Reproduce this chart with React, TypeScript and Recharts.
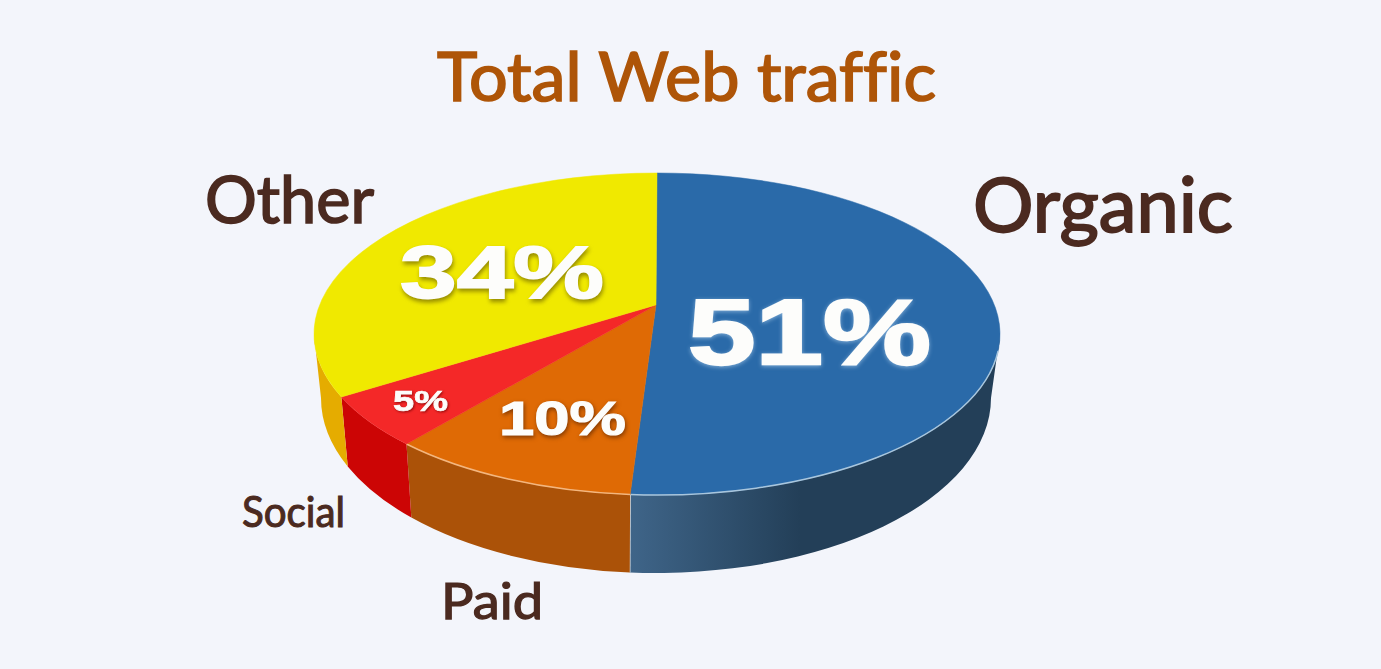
import { PieChart, Pie } from 'recharts';

const categories = ['Organic', 'Paid', 'Social', 'Other'];
const shares = [51, 10, 5, 34];

const topColors = ['#2a6aa9', '#df6a05', '#f42828', '#f0e900'];
const wallColors = ['url(#organicWall)', '#ab5208', '#cc0505', '#e5ac00'];
const rimColors = ['#a9c6dd', '#f3b67f', 'none', 'none'];

const data = categories.map((name, i) => ({ name, value: shares[i] }));

const BG = '#f3f5fb';
const W = 1381;
const H = 669;

// top face ellipse, the slices meet above its centre because of the perspective
const TOP = { cx: 657, cy: 334, rx: 343, ry: 161 };
const APEX = { x: 656, y: 305 };
const STRETCH = 2.17;
const WALL_SQUASH = 175 / 335;

const NAME_STYLE: Record<string, { x: number; y: number; size: number; len: number }> = {
  Organic: { x: 973, y: 232, size: 75, len: 260 },
  Paid: { x: 441, y: 619, size: 50, len: 102 },
  Social: { x: 242, y: 527, size: 42, len: 103 },
  Other: { x: 205, y: 223, size: 66, len: 169 },
};

const VALUE_STYLE: Record<string, { x: number; y: number; size: number; len: number; shadow: string }> = {
  Organic: { x: 688, y: 364, size: 90, len: 243, shadow: 'drop-shadow(0 1px 2px rgba(190,220,245,0.6))' },
  Paid: { x: 499, y: 435, size: 47, len: 127, shadow: 'drop-shadow(1px 2px 2px rgba(90,35,0,0.7))' },
  Social: { x: 393, y: 411, size: 29, len: 55, shadow: 'drop-shadow(1px 1px 1px rgba(110,0,0,0.7))' },
  Other: { x: 400, y: 298, size: 72, len: 204, shadow: 'drop-shadow(1px 3px 2px rgba(120,110,0,0.75))' },
};

const rad = (d: number) => (d * Math.PI) / 180;

// recharts angle -> ellipse parameter (deg), going clockwise on screen from -90 at the top
function ellipseParam(angle: number) {
  const theta = 90 - angle;
  if (theta <= 0.01) return -90;
  if (theta >= 359.99) return 270;
  const dx = Math.sin(rad(theta)) * STRETCH;
  const dy = -Math.cos(rad(theta));
  const ox = (APEX.x - TOP.cx) / TOP.rx;
  const oy = (APEX.y - TOP.cy) / TOP.ry;
  const ux = dx / TOP.rx;
  const uy = dy / TOP.ry;
  const a = ux * ux + uy * uy;
  const b = 2 * (ox * ux + oy * uy);
  const c = ox * ox + oy * oy - 1;
  const s = (-b + Math.sqrt(b * b - 4 * a * c)) / (2 * a);
  let t = (Math.atan2(oy + uy * s, ox + ux * s) * 180) / Math.PI;
  if (t < -90) t += 360;
  return t;
}

const onEllipse = (e: { cx: number; cy: number; rx: number; ry: number }, t: number) => ({
  x: e.cx + e.rx * Math.cos(rad(t)),
  y: e.cy + e.ry * Math.sin(rad(t)),
});

const TopSlice = (props: any) => {
  const i = categories.indexOf(props.name);
  const tA = ellipseParam(props.startAngle);
  const tB = ellipseParam(props.endAngle);
  const a = onEllipse(TOP, tA);
  const b = onEllipse(TOP, tB);
  const large = tB - tA > 180 ? 1 : 0;
  const rimA = Math.max(tA, 6);
  const rimB = Math.min(tB, 180);
  const ra = onEllipse(TOP, rimA);
  const rb = onEllipse(TOP, rimB);
  return (
    <g>
      <path
        d={`M${APEX.x} ${APEX.y}L${a.x} ${a.y}A${TOP.rx} ${TOP.ry} 0 ${large} 1 ${b.x} ${b.y}Z`}
        fill={topColors[i]}
        stroke={topColors[i]}
        strokeWidth={0.5}
      />
      {rimB > rimA && rimColors[i] !== 'none' && (
        <path
          d={`M${ra.x} ${ra.y}A${TOP.rx} ${TOP.ry} 0 0 1 ${rb.x} ${rb.y}`}
          fill="none"
          stroke={rimColors[i]}
          strokeWidth={1.5}
        />
      )}
    </g>
  );
};

const WallSlice = (props: any) => {
  const i = categories.indexOf(props.name);
  const tA = Math.max(ellipseParam(props.startAngle), 0);
  const tB = Math.min(ellipseParam(props.endAngle), 180);
  if (tB <= tA) return null;
  const low = { cx: props.cx, cy: props.cy, rx: props.outerRadius, ry: props.outerRadius * WALL_SQUASH };
  const a = onEllipse(TOP, tA);
  const b = onEllipse(TOP, tB);
  const c = onEllipse(low, tB);
  const d = onEllipse(low, tA);
  return (
    <g>
      <path
        d={`M${a.x} ${a.y}A${TOP.rx} ${TOP.ry} 0 0 1 ${b.x} ${b.y}L${c.x} ${c.y}A${low.rx} ${low.ry} 0 0 0 ${d.x} ${d.y}Z`}
        fill={wallColors[i]}
      />
      {i === 0 && <path d={`M${b.x} ${b.y}L${c.x} ${c.y}`} stroke="#d5d9de" strokeWidth={1.5} />}
    </g>
  );
};

const renderLabels = (props: any) => {
  const name = categories[props.index];
  const n = NAME_STYLE[name];
  const v = VALUE_STYLE[name];
  return (
    <g key={name}>
      <text
        x={v.x}
        y={v.y}
        fontFamily="Liberation Sans"
        fontWeight={700}
        fontSize={v.size * 1.04}
        fill="#fdfdfb"
        stroke="#fdfdfb"
        strokeWidth={v.size / 40}
        textLength={v.len}
        lengthAdjust="spacingAndGlyphs"
        style={{ filter: v.shadow }}
      >
        {`${shares[props.index]}%`}
      </text>
      <text
        x={n.x}
        y={n.y}
        fontFamily="Lato"
        fontSize={n.size}
        fill="#4b2a20"
        stroke="#4b2a20"
        strokeWidth={n.size / 40}
        textLength={n.len}
        lengthAdjust="spacingAndGlyphs"
        style={{ fontVariantLigatures: 'none' }}
      >
        {name}
      </text>
    </g>
  );
};

export default function App() {
  return (
    <div style={{ position: 'fixed', left: 0, top: 0, width: W, height: H, background: BG }}>
      <PieChart width={W} height={H} margin={{ top: 0, right: 0, bottom: 0, left: 0 }}>
        <defs>
          <linearGradient id="organicWall" x1="0" y1="0" x2="1" y2="0">
            <stop offset="0" stopColor="#3f6589" />
            <stop offset="0.46" stopColor="#233f58" />
            <stop offset="1" stopColor="#233f58" />
          </linearGradient>
        </defs>
        <text
          x={437}
          y={101}
          fontFamily="Lato"
          fontSize={68}
          fill="#ae5508"
          stroke="#ae5508"
          strokeWidth={1.7}
          textLength={499}
          lengthAdjust="spacingAndGlyphs"
          style={{ fontVariantLigatures: 'none' }}
        >
          Total Web traffic
        </text>
        <Pie
          data={data}
          dataKey="value"
          nameKey="name"
          cx={656}
          cy={398}
          outerRadius={335}
          startAngle={90}
          endAngle={-270}
          stroke="none"
          shape={WallSlice}
          isAnimationActive={false}
        />
        <Pie
          data={data}
          dataKey="value"
          nameKey="name"
          cx={TOP.cx}
          cy={TOP.cy}
          outerRadius={TOP.rx}
          startAngle={90}
          endAngle={-270}
          stroke="none"
          shape={TopSlice}
          label={renderLabels}
          labelLine={false}
          isAnimationActive={false}
        />
      </PieChart>
    </div>
  );
}
